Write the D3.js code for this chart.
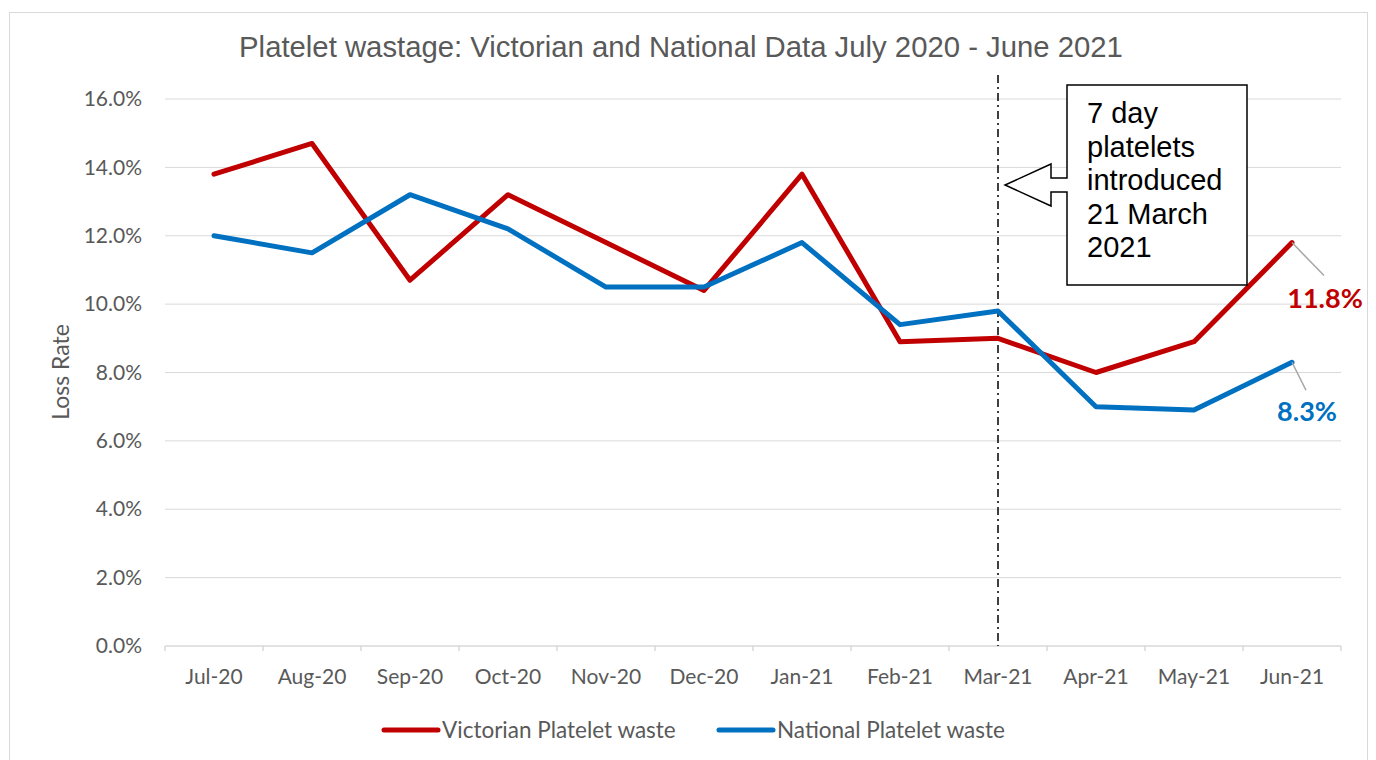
<!DOCTYPE html>
<html>
<head>
<meta charset="utf-8">
<title>Platelet wastage</title>
<script src="https://cdn.jsdelivr.net/npm/d3@7"></script>
<style>
  body { margin: 0; background: #fff; }
  svg { display: block; }
</style>
</head>
<body>
<svg></svg>
<script>
const WIDTH = 1376;
const HEIGHT = 760;

// data
const months = ["Jul-20", "Aug-20", "Sep-20", "Oct-20", "Nov-20", "Dec-20",
                "Jan-21", "Feb-21", "Mar-21", "Apr-21", "May-21", "Jun-21"];
const victorian = [13.8, 14.7, 10.7, 13.2, 11.8, 10.4, 13.8, 8.9, 9.0, 8.0, 8.9, 11.8];
const national = [12.0, 11.5, 13.2, 12.2, 10.5, 10.5, 11.8, 9.4, 9.8, 7.0, 6.9, 8.3];
const yTicks = [0, 2, 4, 6, 8, 10, 12, 14, 16];
const seriesNames = ["Victorian Platelet waste", "National Platelet waste"];
const seriesColors = ["#C00000", "#0070C0"];
const markerMonth = "Mar-21";
const calloutLines = ["7 day", "platelets", "introduced", "21 March", "2021"];

const svg = d3.select("svg")
    .attr("width", WIDTH)
    .attr("height", HEIGHT);

// outer chart border
svg.append("rect")
    .attr("x", 9.5).attr("y", 12.5)
    .attr("width", 1358).attr("height", 760)
    .attr("fill", "none")
    .attr("stroke", "#d9d9d9");

const x = d3.scaleBand()
    .domain(months)
    .range([165, 1341]);

const y = d3.scaleLinear()
    .domain([0, 16])
    .range([646, 99]);

const labelFont = "Lato, 'Open Sans', sans-serif";

// gridlines
svg.append("g")
    .selectAll("line")
    .data(yTicks.slice(1))
    .enter()
    .append("line")
    .attr("x1", 165).attr("x2", 1341)
    .attr("y1", d => y(d)).attr("y2", d => y(d))
    .attr("stroke", "#d9d9d9")
    .attr("stroke-width", 1);

// y axis labels
const yAxis = svg.append("g")
    .attr("transform", "translate(165,0)")
    .call(d3.axisLeft(y).tickValues(yTicks).tickSize(0).tickPadding(23)
        .tickFormat(d => d.toFixed(1) + "%"));
yAxis.select(".domain").remove();
yAxis.selectAll("text")
    .attr("fill", "#595959")
    .style("font-family", labelFont)
    .style("font-size", "21px");

// x axis
const xAxis = svg.append("g")
    .attr("transform", "translate(0,646)");
xAxis.append("line")
    .attr("x1", 165).attr("x2", 1341)
    .attr("stroke", "#d9d9d9").attr("stroke-width", 1.5);
xAxis.selectAll(".tk")
    .data(months.concat(["end"]))
    .enter()
    .append("line")
    .attr("x1", (d, i) => 165 + i * x.bandwidth())
    .attr("x2", (d, i) => 165 + i * x.bandwidth())
    .attr("y1", 0).attr("y2", 5)
    .attr("stroke", "#d9d9d9").attr("stroke-width", 1.5);
xAxis.selectAll("text")
    .data(months)
    .enter()
    .append("text")
    .attr("x", d => x(d) + x.bandwidth() / 2)
    .attr("y", 38)
    .attr("text-anchor", "middle")
    .attr("fill", "#595959")
    .style("font-family", labelFont)
    .style("font-size", "21px")
    .text(d => d);

// y axis title
svg.append("text")
    .attr("transform", "translate(69,372) rotate(-90)")
    .attr("text-anchor", "middle")
    .attr("fill", "#595959")
    .style("font-family", labelFont)
    .style("font-size", "23px")
    .text("Loss Rate");

// title
svg.append("text")
    .attr("x", 681).attr("y", 57)
    .attr("text-anchor", "middle")
    .attr("fill", "#595959")
    .style("font-family", "'Liberation Sans', Arial, sans-serif")
    .style("font-size", "29.3px")
    .text("Platelet wastage: Victorian and National Data July 2020 - June 2021");

// vertical dash-dot marker
const mx = x(markerMonth) + x.bandwidth() / 2;
svg.append("line")
    .attr("x1", mx).attr("x2", mx)
    .attr("y1", 75).attr("y2", 646)
    .attr("stroke", "#000")
    .attr("stroke-width", 1.5)
    .attr("stroke-dasharray", "8,4,2,4");

// lines
const line = d3.line()
    .x((d, i) => x(months[i]) + x.bandwidth() / 2)
    .y(d => y(d));

[victorian, national].forEach((s, k) => {
    svg.append("path")
        .datum(s)
        .attr("d", line)
        .attr("fill", "none")
        .attr("stroke", seriesColors[k])
        .attr("stroke-width", 5)
        .attr("stroke-linejoin", "round")
        .attr("stroke-linecap", "round");
});

// end labels with leader lines
const lastX = x(months[11]) + x.bandwidth() / 2;
const endLabels = [
    { v: victorian[11], dx: 32, dy: 33, tx: 1325, ty: 308, c: seriesColors[0] },
    { v: national[11], dx: 14, dy: 28, tx: 1307, ty: 421, c: seriesColors[1] }
];
endLabels.forEach(l => {
    svg.append("line")
        .attr("x1", lastX).attr("y1", y(l.v))
        .attr("x2", lastX + l.dx).attr("y2", y(l.v) + l.dy)
        .attr("stroke", "#a6a6a6").attr("stroke-width", 1.5);
    svg.append("text")
        .attr("x", l.tx).attr("y", l.ty)
        .attr("text-anchor", "middle")
        .attr("fill", l.c)
        .style("font-family", labelFont)
        .style("font-weight", "bold")
        .style("font-size", "27px")
        .text(l.v.toFixed(1) + "%");
});

// callout box with left arrow
const bx0 = 1067, bx1 = 1247, by0 = 85, by1 = 285;
const tipX = mx + 7, tipY = 185;
const callout = [
    [bx0, by0], [bx1, by0], [bx1, by1], [bx0, by1],
    [bx0, 192], [1051, 192], [1051, 206], [tipX, tipY],
    [1051, 164], [1051, 178], [bx0, 178]
];
svg.append("path")
    .attr("d", d3.line()(callout) + "Z")
    .attr("fill", "#fff")
    .attr("stroke", "#000")
    .attr("stroke-width", 1.5);
svg.append("g")
    .selectAll("text")
    .data(calloutLines)
    .enter()
    .append("text")
    .attr("x", 1087)
    .attr("y", (d, i) => 123 + i * 33.5)
    .attr("fill", "#000")
    .style("font-family", "'Liberation Sans', Arial, sans-serif")
    .style("font-size", "29px")
    .text(d => d);

// legend
const legendX = [384, 719];
seriesNames.forEach((name, k) => {
    const g = svg.append("g").attr("transform", `translate(${legendX[k]},730)`);
    g.append("line")
        .attr("x1", 0).attr("x2", 54)
        .attr("stroke", seriesColors[k])
        .attr("stroke-width", 5)
        .attr("stroke-linecap", "round");
    g.append("text")
        .attr("x", 58).attr("y", 8)
        .attr("fill", "#595959")
        .style("font-family", labelFont)
        .style("font-size", "22.5px")
        .text(name);
});
</script>
</body>
</html>
